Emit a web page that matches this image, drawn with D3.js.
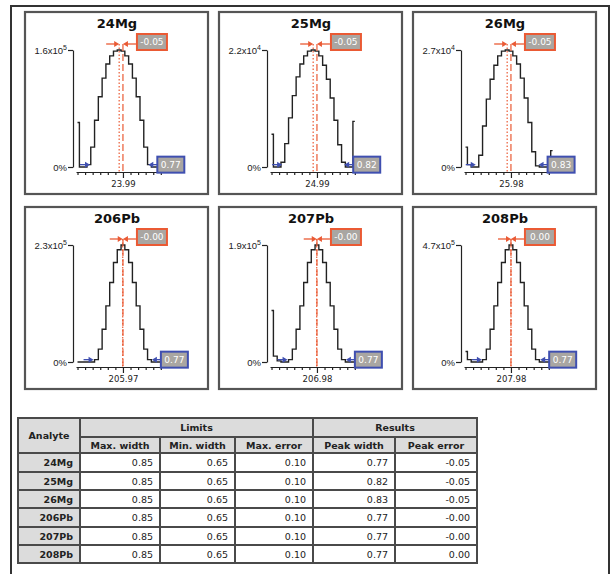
<!DOCTYPE html>
<html>
<head>
<meta charset="utf-8">
<script src="https://cdn.jsdelivr.net/npm/d3@7"></script>
<style>
body { margin: 0; background: #fff; }
svg { display: block; font-family: "DejaVu Sans", Verdana, sans-serif; }
</style>
</head>
<body>
<script>
//analytes and their nominal masses
var analytes = ["24Mg", "25Mg", "26Mg", "206Pb", "207Pb", "208Pb"];
var masses = ["23.99", "24.99", "25.98", "205.97", "206.98", "207.98"];

//top of y axis, written as mantissa x 10^exponent
var yMaxMant = ["1.6", "2.2", "2.7", "2.3", "1.9", "4.7"];
var yMaxExp = ["5", "4", "4", "5", "5", "5"];

//table values
var maxWidth = [0.85, 0.85, 0.85, 0.85, 0.85, 0.85];
var minWidth = [0.65, 0.65, 0.65, 0.65, 0.65, 0.65];
var maxError = [0.10, 0.10, 0.10, 0.10, 0.10, 0.10];
var peakWidth = [0.77, 0.82, 0.83, 0.77, 0.77, 0.77];
var peakError = [-0.05, -0.05, -0.05, -0.003, -0.003, 0.001];

//scan positions, amu away from the nominal mass
var offsets = [-0.60, -0.55, -0.50, -0.45, -0.40, -0.35, -0.30, -0.25, -0.20, -0.15, -0.10, -0.05,
               0.00, 0.05, 0.10, 0.15, 0.20, 0.25, 0.30, 0.35, 0.40, 0.45, 0.50, 0.55];
var tickOffsets = [-0.6, -0.5, -0.4, -0.3, -0.2, -0.1, 0, 0.1, 0.2, 0.3, 0.4, 0.5];

//intensity as a fraction of the y axis top
var scan24Mg = [0.38, 0, 0, 0.02, 0.17, 0.40, 0.60, 0.76, 0.88, 0.95, 0.99, 1.00,
                0.99, 0.95, 0.88, 0.76, 0.60, 0.40, 0.17, 0.02, 0, 0, 0, 0];
var scan25Mg = [0.28, 0, 0, 0.04, 0.20, 0.42, 0.61, 0.77, 0.88, 0.95, 0.99, 1.00,
                0.99, 0.95, 0.87, 0.75, 0.59, 0.40, 0.19, 0.04, 0, 0, 0.39, null];
var scan26Mg = [0.17, 0.02, 0, 0, 0.10, 0.35, 0.58, 0.75, 0.87, 0.95, 0.99, 1.00,
                0.99, 0.95, 0.88, 0.76, 0.59, 0.38, 0.13, 0.01, 0, 0, 0, 0.14];
var scan206Pb = [0, 0, 0, 0, 0, 0.02, 0.11, 0.28, 0.48, 0.68, 0.85, 0.96,
                 1.00, 0.96, 0.85, 0.68, 0.48, 0.28, 0.11, 0.02, 0, 0, 0, 0];
var scan207Pb = [0.44, 0.05, 0.01, 0, 0, 0.02, 0.11, 0.28, 0.48, 0.68, 0.85, 0.96,
                 1.00, 0.96, 0.85, 0.68, 0.48, 0.28, 0.11, 0.02, 0, 0, 0, 0];
var scan208Pb = [0.09, 0.02, 0, 0, 0, 0.02, 0.11, 0.28, 0.48, 0.68, 0.85, 0.96,
                 1.00, 0.96, 0.85, 0.68, 0.48, 0.28, 0.11, 0.02, 0, 0, 0, 0];
var scans = [scan24Mg, scan25Mg, scan26Mg, scan206Pb, scan207Pb, scan208Pb];

var red = "#ea5a34";
var blue = "#3f4fb0";

var svg = d3.select("body").append("svg")
    .attr("width", 614)
    .attr("height", 574);

//outer frame
svg.append("rect")
    .attr("x", 11).attr("y", 6)
    .attr("width", 598).attr("height", 640)
    .attr("fill", "none")
    .attr("stroke", "#333")
    .attr("stroke-width", 2);

//small arrow: line from x0 to x1, head at x1
function arrow(g, x0, x1, yy, color) {
    var dir = x1 > x0 ? 1 : -1;
    g.append("line")
        .attr("x1", x0).attr("x2", x1 - dir * 3)
        .attr("y1", yy).attr("y2", yy)
        .attr("stroke", color).attr("stroke-width", 1.3);
    g.append("path")
        .attr("d", `M${x1},${yy}L${x1 - dir * 5},${yy - 3}L${x1 - dir * 5},${yy + 3}Z`)
        .attr("fill", color);
}

function labelBox(g, bx, by, w, h, text, stroke) {
    g.append("rect")
        .attr("x", bx).attr("y", by)
        .attr("width", w).attr("height", h)
        .attr("fill", "#a9a6a2")
        .attr("stroke", stroke)
        .attr("stroke-width", 2);
    g.append("text")
        .attr("x", bx + w / 2).attr("y", by + h / 2 + 3.3)
        .attr("text-anchor", "middle")
        .attr("font-size", 9)
        .attr("fill", "#fff")
        .text(text);
}

analytes.forEach(function(name, i) {
    var col = i % 3, row = Math.floor(i / 3);
    var g = svg.append("g")
        .attr("transform", `translate(${25 + col * 194},${12 + row * 195})`);

    //panel box
    g.append("rect")
        .attr("width", 183).attr("height", 182)
        .attr("fill", "#fff")
        .attr("stroke", "#555")
        .attr("stroke-width", 2.2);

    //title
    g.append("text")
        .attr("x", 92).attr("y", 16)
        .attr("text-anchor", "middle")
        .attr("font-size", 13)
        .attr("font-weight", "bold")
        .attr("fill", "#111")
        .text(name);

    var x = d3.scaleLinear()
        .domain([-0.62, 0.55])
        .range([51, 139.6]);

    var y = d3.scaleLinear()
        .domain([0, 1])
        .range([155, 38]);

    //y axis
    var yAxis = g.append("g")
        .attr("transform", "translate(48,0)")
        .call(d3.axisLeft(y).tickValues([0, 1]).tickSize(5).tickSizeOuter(0).tickFormat(""));
    yAxis.selectAll("line, path").attr("stroke", "#222").attr("stroke-width", 1.2);
    yAxis.selectAll(".tick").each(function(d) {
        var t = d3.select(this).append("text")
            .attr("x", -6).attr("dy", "0.35em")
            .attr("text-anchor", "end")
            .attr("font-size", 9.5)
            .attr("fill", "#222");
        if (d === 0) {
            t.text("0%");
        } else {
            t.text(yMaxMant[i] + "x10");
            t.append("tspan").attr("dy", -4).attr("font-size", 7).text(yMaxExp[i]);
        }
    });

    //x axis
    var xAxis = g.append("g")
        .attr("transform", "translate(0,160)")
        .call(d3.axisBottom(x)
            .tickValues(tickOffsets)
            .tickSize(3)
            .tickSizeOuter(0)
            .tickFormat(d => d === 0 ? masses[i] : ""));
    xAxis.selectAll("line, path").attr("stroke", "#222").attr("stroke-width", 1.2);
    xAxis.selectAll(".tick line").attr("y2", d => d === 0 ? 6 : 3);
    xAxis.selectAll(".tick text")
        .attr("y", 9)
        .attr("font-size", 8.5)
        .attr("font-family", "DejaVu Sans, sans-serif")
        .attr("fill", "#222");

    //scan trace
    var line = d3.line()
        .defined(d => d != null)
        .x((d, j) => x(offsets[j]))
        .y(d => y(d))
        .curve(d3.curveStep);

    g.append("path")
        .datum(scans[i])
        .attr("d", line)
        .attr("fill", "none")
        .attr("stroke", "#222")
        .attr("stroke-width", 1.4);

    //peak centre: measured (dotted) and nominal (dashed)
    var xm = x(peakError[i]), x0 = x(0);
    g.append("line")
        .attr("x1", xm).attr("x2", xm)
        .attr("y1", 32).attr("y2", 160)
        .attr("stroke", red).attr("stroke-width", 1.2)
        .attr("stroke-dasharray", "1.5,2");
    g.append("line")
        .attr("x1", x0).attr("x2", x0)
        .attr("y1", 32).attr("y2", 160)
        .attr("stroke", red).attr("stroke-width", 1.2)
        .attr("stroke-dasharray", "7,3");
    arrow(g, xm - 13, xm, 32, red);
    arrow(g, x0 + 13, x0, 32, red);
    labelBox(g, x0 + 14, 22, 30, 16, peakError[i].toFixed(2), red);

    //peak width
    var xl = x(peakError[i] - peakWidth[i] / 2);
    var xr = x(peakError[i] + peakWidth[i] / 2);
    var yw = y(0.02);
    arrow(g, xl - 10, xl, yw, blue);
    arrow(g, xr + 9, xr, yw, blue);
    labelBox(g, xr + 9, yw - 8, 27, 16, peakWidth[i].toFixed(2), blue);
});

//table
var colEdges = [18, 80, 160, 235, 313, 395, 477];
var rowEdges = [418, 437, 453, 472, 490, 508, 527, 545, 563];
var subHeads = ["Max. width", "Min. width", "Max. error", "Peak width", "Peak error"];

var cells = [
    {c0: 0, c1: 1, r0: 0, r1: 2, text: "Analyte", head: true, align: "middle"},
    {c0: 1, c1: 4, r0: 0, r1: 1, text: "Limits", head: true, align: "middle"},
    {c0: 4, c1: 6, r0: 0, r1: 1, text: "Results", head: true, align: "middle"}
];
subHeads.forEach(function(h, k) {
    cells.push({c0: k + 1, c1: k + 2, r0: 1, r1: 2, text: h, head: true, align: "middle"});
});
analytes.forEach(function(name, i) {
    var vals = [maxWidth[i], minWidth[i], maxError[i], peakWidth[i], peakError[i]];
    cells.push({c0: 0, c1: 1, r0: i + 2, r1: i + 3, text: name, head: true, align: "end"});
    vals.forEach(function(v, k) {
        cells.push({c0: k + 1, c1: k + 2, r0: i + 2, r1: i + 3, text: v.toFixed(2), head: false, align: "end"});
    });
});

var cell = svg.append("g").selectAll("g").data(cells).enter().append("g");

cell.append("rect")
    .attr("x", d => colEdges[d.c0])
    .attr("y", d => rowEdges[d.r0])
    .attr("width", d => colEdges[d.c1] - colEdges[d.c0])
    .attr("height", d => rowEdges[d.r1] - rowEdges[d.r0])
    .attr("fill", d => d.head ? "#dcdcdc" : "#fff")
    .attr("stroke", "#4a4a4a")
    .attr("stroke-width", 2);

cell.append("text")
    .attr("x", d => d.align === "middle" ? (colEdges[d.c0] + colEdges[d.c1]) / 2 : colEdges[d.c1] - 7)
    .attr("y", d => (rowEdges[d.r0] + rowEdges[d.r1]) / 2 + 3.5)
    .attr("text-anchor", d => d.align)
    .attr("font-size", 9.5)
    .attr("font-weight", d => d.head ? "bold" : "normal")
    .attr("fill", "#222")
    .text(d => d.text);
</script>
</body>
</html>
